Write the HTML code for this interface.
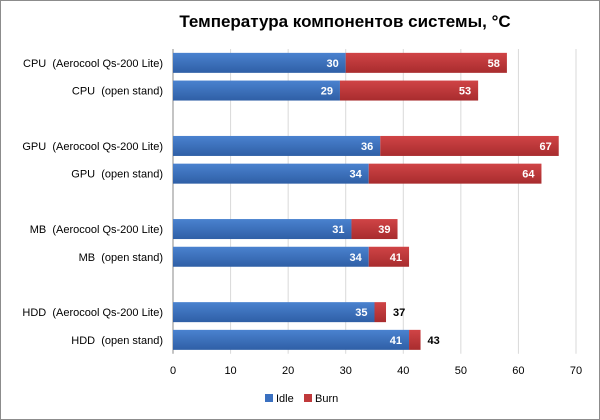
<!DOCTYPE html>
<html><head><meta charset="utf-8"><style>
body{margin:0;background:#fff;}
svg{display:block;font-family:"Liberation Sans","DejaVu Sans",sans-serif;}
</style></head><body>
<svg id="chart" width="600" height="420">
<defs>
<linearGradient id="gb" x1="0" y1="0" x2="0" y2="1"><stop offset="0" stop-color="#4a82cf"/><stop offset="1" stop-color="#2f5fa6"/></linearGradient>
<linearGradient id="gr" x1="0" y1="0" x2="0" y2="1"><stop offset="0" stop-color="#d04446"/><stop offset="1" stop-color="#a82c2e"/></linearGradient>
</defs>
<rect x="0.5" y="0.5" width="599" height="419" fill="#fff" stroke="#8c8c8c"/>
<text x="345" y="27" text-anchor="middle" font-size="17" font-weight="bold" fill="#000">Температура компонентов системы, °C</text>
<g id="grid"></g><g id="bars"></g><g id="labels"></g>
<g>
<rect x="265" y="394" width="8" height="8" fill="#3a70c0"/>
<text x="276" y="402" font-size="11">Idle</text>
<rect x="304" y="394" width="8" height="8" fill="#c0393b"/>
<text x="315" y="402" font-size="11">Burn</text>
</g>
</svg>
<script>
const categories=["CPU  (Aerocool Qs-200 Lite)","CPU  (open stand)","","GPU  (Aerocool Qs-200 Lite)","GPU  (open stand)","","MB  (Aerocool Qs-200 Lite)","MB  (open stand)","","HDD  (Aerocool Qs-200 Lite)","HDD  (open stand)"];
const idle=[30,29,null,36,34,null,31,34,null,35,41];
const burn=[58,53,null,67,64,null,39,41,null,37,43];
const ticks=[0,10,20,30,40,50,60,70];
const x0=173,x1=576,plotTop=49,slot=27.7;
const xs=v=>x0+v/70*(x1-x0);
const yc=i=>plotTop+slot*(i+0.5);
const NS="http://www.w3.org/2000/svg";
function mk(t,a,p){const e=document.createElementNS(NS,t);for(const k in a)e.setAttribute(k,a[k]);p.appendChild(e);return e;}
const g=document.getElementById('grid'),b=document.getElementById('bars'),l=document.getElementById('labels');
ticks.forEach(t=>{
 if(t>0){const ln=mk('line',{x1:xs(t),x2:xs(t),y1:plotTop,y2:plotTop+slot*11,stroke:'#d9d9d9'},g);
 
 }
 const tx=mk('text',{x:xs(t),y:374,'text-anchor':'middle','font-size':11,fill:'#000'},l);tx.textContent=t;
 
 
});
const ax=mk('line',{x1:x0,x2:x0,y1:plotTop,y2:plotTop+slot*11,stroke:'#888'},g);


categories.forEach((c,i)=>{
 if(idle[i]==null)return;
 const y=yc(i),h=20;
 const lab=mk('text',{x:163,y:y+4,'text-anchor':'end','font-size':11,style:'white-space:pre'},l);lab.textContent=c;
 
 
 const r1=mk('rect',{x:xs(0),y:y-h/2,width:xs(idle[i])-xs(0),height:h,fill:'url(#gb)'},b);
 
 
 const r2=mk('rect',{x:xs(idle[i]),y:y-h/2,width:xs(burn[i])-xs(idle[i]),height:h,fill:'url(#gr)'},b);
 
 
 const v1=mk('text',{x:xs(idle[i])-7,y:y+4,'text-anchor':'end','font-size':11,'font-weight':'bold',fill:'#fff'},l);v1.textContent=idle[i];
 
 
 const wide=xs(burn[i])-xs(idle[i])>25;
 const v2=mk('text',{x:wide?xs(burn[i])-7:xs(burn[i])+7,y:y+4,'text-anchor':wide?'end':'start','font-size':11,'font-weight':'bold',fill:wide?'#fff':'#000'},l);v2.textContent=burn[i];
 
 
});
</script>
</body></html>
